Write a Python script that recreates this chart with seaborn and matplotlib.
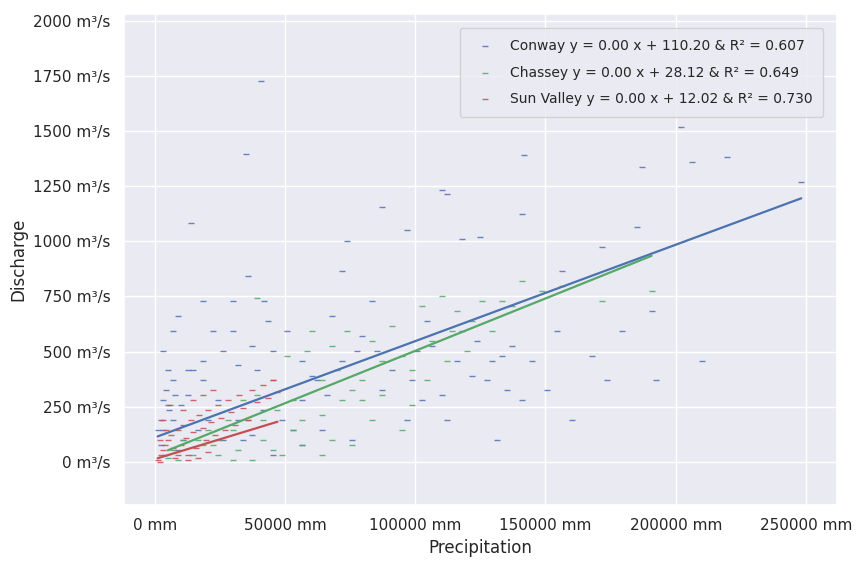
import matplotlib
matplotlib.use("Agg")
import matplotlib.pyplot as plt
import seaborn as sns
import pandas as pd
from matplotlib.ticker import FuncFormatter, MultipleLocator

# Station names and fitted regression coefficients
stations = ["Conway", "Chassey", "Sun Valley"]
slopes = [0.00437, 0.00475, 0.00360]
intercepts = [110.20, 28.12, 12.02]
r_squared = [0.607, 0.649, 0.730]

# Precipitation (mm) and discharge (m³/s) observations per station
conway_precip = [40600, 34900, 13800, 110300, 112200, 96900, 118000, 124900, 87300, 73900,
                 72000, 35600, 42100, 8800, 22200, 141000, 141800, 185000, 156300, 171600,
                 186900, 202200, 206100, 219500, 248200, 190700, 173500, 167800, 160000, 131400,
                 133300, 137100, 118000, 106500, 121800, 127500, 112200, 102600, 96900, 87300,
                 77700, 62400, 56700, 45200, 39400, 29900, 24100, 18400, 12600, 5000,
                 3100, 2300, 6900, 10700, 16500, 3800, 8800, 68200, 83500, 141000,
                 150500, 179200, 209900, 192600, 49000, 64300, 75800, 33700, 2300, 3100,
                 4200, 5400, 6900, 1100, 7700, 10000, 12600, 18400, 3100, 5000,
                 26000, 31800, 37500, 43300, 50900, 56700, 60500, 66300, 72000, 79700,
                 85400, 91200, 98800, 100700, 104600, 110300, 116000, 123700, 129500, 135200,
                 144800, 154400, 31800, 41400, 52900, 56700, 20300, 26000, 37500, 45200,
                 14600, 29900, 18400, 6900]
conway_discharge = [1728, 1395, 1085, 1233, 1215, 1053, 1008, 1021, 1156, 999,
                    864, 841, 729, 661, 594, 1125, 1390, 1066, 864, 976,
                    1336, 1516, 1359, 1381, 1269, 684, 369, 481, 189, 99,
                    481, 526, 594, 526, 391, 369, 189, 279, 189, 324,
                    504, 369, 279, 504, 414, 594, 279, 369, 301, 256,
                    144, 76, 189, 99, 144, 31, 54, 661, 729, 279,
                    324, 594, 459, 369, 189, 144, 99, 99, 189, 279,
                    324, 234, 369, 144, 301, 256, 414, 459, 504, 414,
                    504, 437, 526, 639, 594, 459, 391, 301, 459, 571,
                    504, 414, 369, 504, 639, 301, 459, 549, 459, 324,
                    459, 594, 189, 234, 144, 76, 189, 99, 121, 31,
                    414, 729, 729, 594]

chassey_precip = [8800, 14600, 18400, 24100, 29900, 35600, 41400, 47100, 52900, 56700,
                  64300, 70100, 75800, 79700, 87300, 95000, 98800, 106500, 114100, 121800,
                  129500, 133300, 141000, 148600, 156300, 5000, 6900, 10700, 20300, 28000,
                  33700, 39400, 45200, 50900, 58600, 60500, 68200, 73900, 83500, 91200,
                  102600, 110300, 116000, 125600, 137100, 24100, 31800, 37500, 49000, 56700,
                  64300, 75800, 95000, 39400, 171600, 190700, 41400, 52900, 64300, 72000,
                  79700, 87300, 98800, 104600, 112200, 119900, 22200, 16500, 29900, 45200,
                  68200, 83500]
chassey_discharge = [9, 31, 76, 99, 144, 189, 99, 234, 279, 189,
                     369, 414, 324, 279, 459, 481, 414, 549, 594, 639,
                     594, 729, 819, 774, 797, 18, 54, 99, 144, 189,
                     279, 301, 369, 481, 504, 594, 526, 594, 549, 616,
                     706, 751, 684, 729, 706, 31, 54, 9, 31, 76,
                     31, 76, 144, 743, 729, 774, 189, 144, 211, 279,
                     369, 301, 256, 369, 459, 504, 76, 99, 9, 54,
                     99, 189]

sunvalley_precip = [1100, 2300, 3100, 3800, 5000, 6100, 6900, 7700, 8800, 10000,
                    10700, 11900, 12600, 13800, 14600, 15700, 16900, 18400, 19500, 20300,
                    21400, 23000, 24100, 25300, 26800, 28000, 29100, 30600, 32200, 33700,
                    35600, 37500, 39400, 41400, 43300, 45200, 47100, 10700, 14600, 18400,
                    22200, 8800, 12600, 16500, 20300, 1900, 3100, 4200, 5700, 1900]
sunvalley_discharge = [9, 31, 54, 76, 99, 121, 63, 18, 144, 76,
                       166, 108, 31, 189, 135, 63, 211, 153, 99, 234,
                       180, 121, 256, 198, 144, 279, 225, 166, 301, 243,
                       189, 324, 270, 346, 288, 369, 315, 234, 279, 301,
                       324, 31, 9, 18, 45, 99, 189, 144, 256, 0]

precip = [conway_precip, chassey_precip, sunvalley_precip]
discharge = [conway_discharge, chassey_discharge, sunvalley_discharge]

sns.set_theme(style="darkgrid")
palette = sns.color_palette("deep")
colors = [palette[0], palette[2], palette[3]]

fig, ax = plt.subplots(figsize=(8.64, 5.64), dpi=100)
fig.subplots_adjust(left=0.143, right=0.969, top=0.975, bottom=0.105)

for name, xs, ys, m, b, r2, c in zip(stations, precip, discharge, slopes, intercepts,
                                     r_squared, colors):
    label = f"{name} y = {m:.2f} x + {b:.2f} & R\u00b2 = {r2:.3f}"
    df = pd.DataFrame({"Precipitation": xs, "Discharge": ys})
    sns.scatterplot(data=df, x="Precipitation", y="Discharge", ax=ax, color=c,
                    marker="_", s=25, linewidth=1.0, alpha=0.85, label=label)
    lo, hi = min(xs), max(xs)
    fit = pd.DataFrame({"Precipitation": [lo, hi], "Discharge": [b + m * lo, b + m * hi]})
    sns.lineplot(data=fit, x="Precipitation", y="Discharge", ax=ax, color=c,
                 linewidth=1.6)

ax.set_xlim(-12000, 262000)
ax.set_ylim(-195, 2030)
ax.xaxis.set_major_locator(MultipleLocator(50000))
ax.yaxis.set_major_locator(MultipleLocator(250))
ax.xaxis.set_major_formatter(FuncFormatter(lambda v, p: f"{v:.0f} mm"))
ax.yaxis.set_major_formatter(FuncFormatter(lambda v, p: f"{v:.0f} m\u00b3/s"))
ax.set_xlabel("Precipitation")
ax.set_ylabel("Discharge")
ax.legend(loc="upper right", fontsize=10, labelspacing=0.9, borderaxespad=1.0,
          borderpad=0.8)

fig.savefig("out.png", dpi=100)
